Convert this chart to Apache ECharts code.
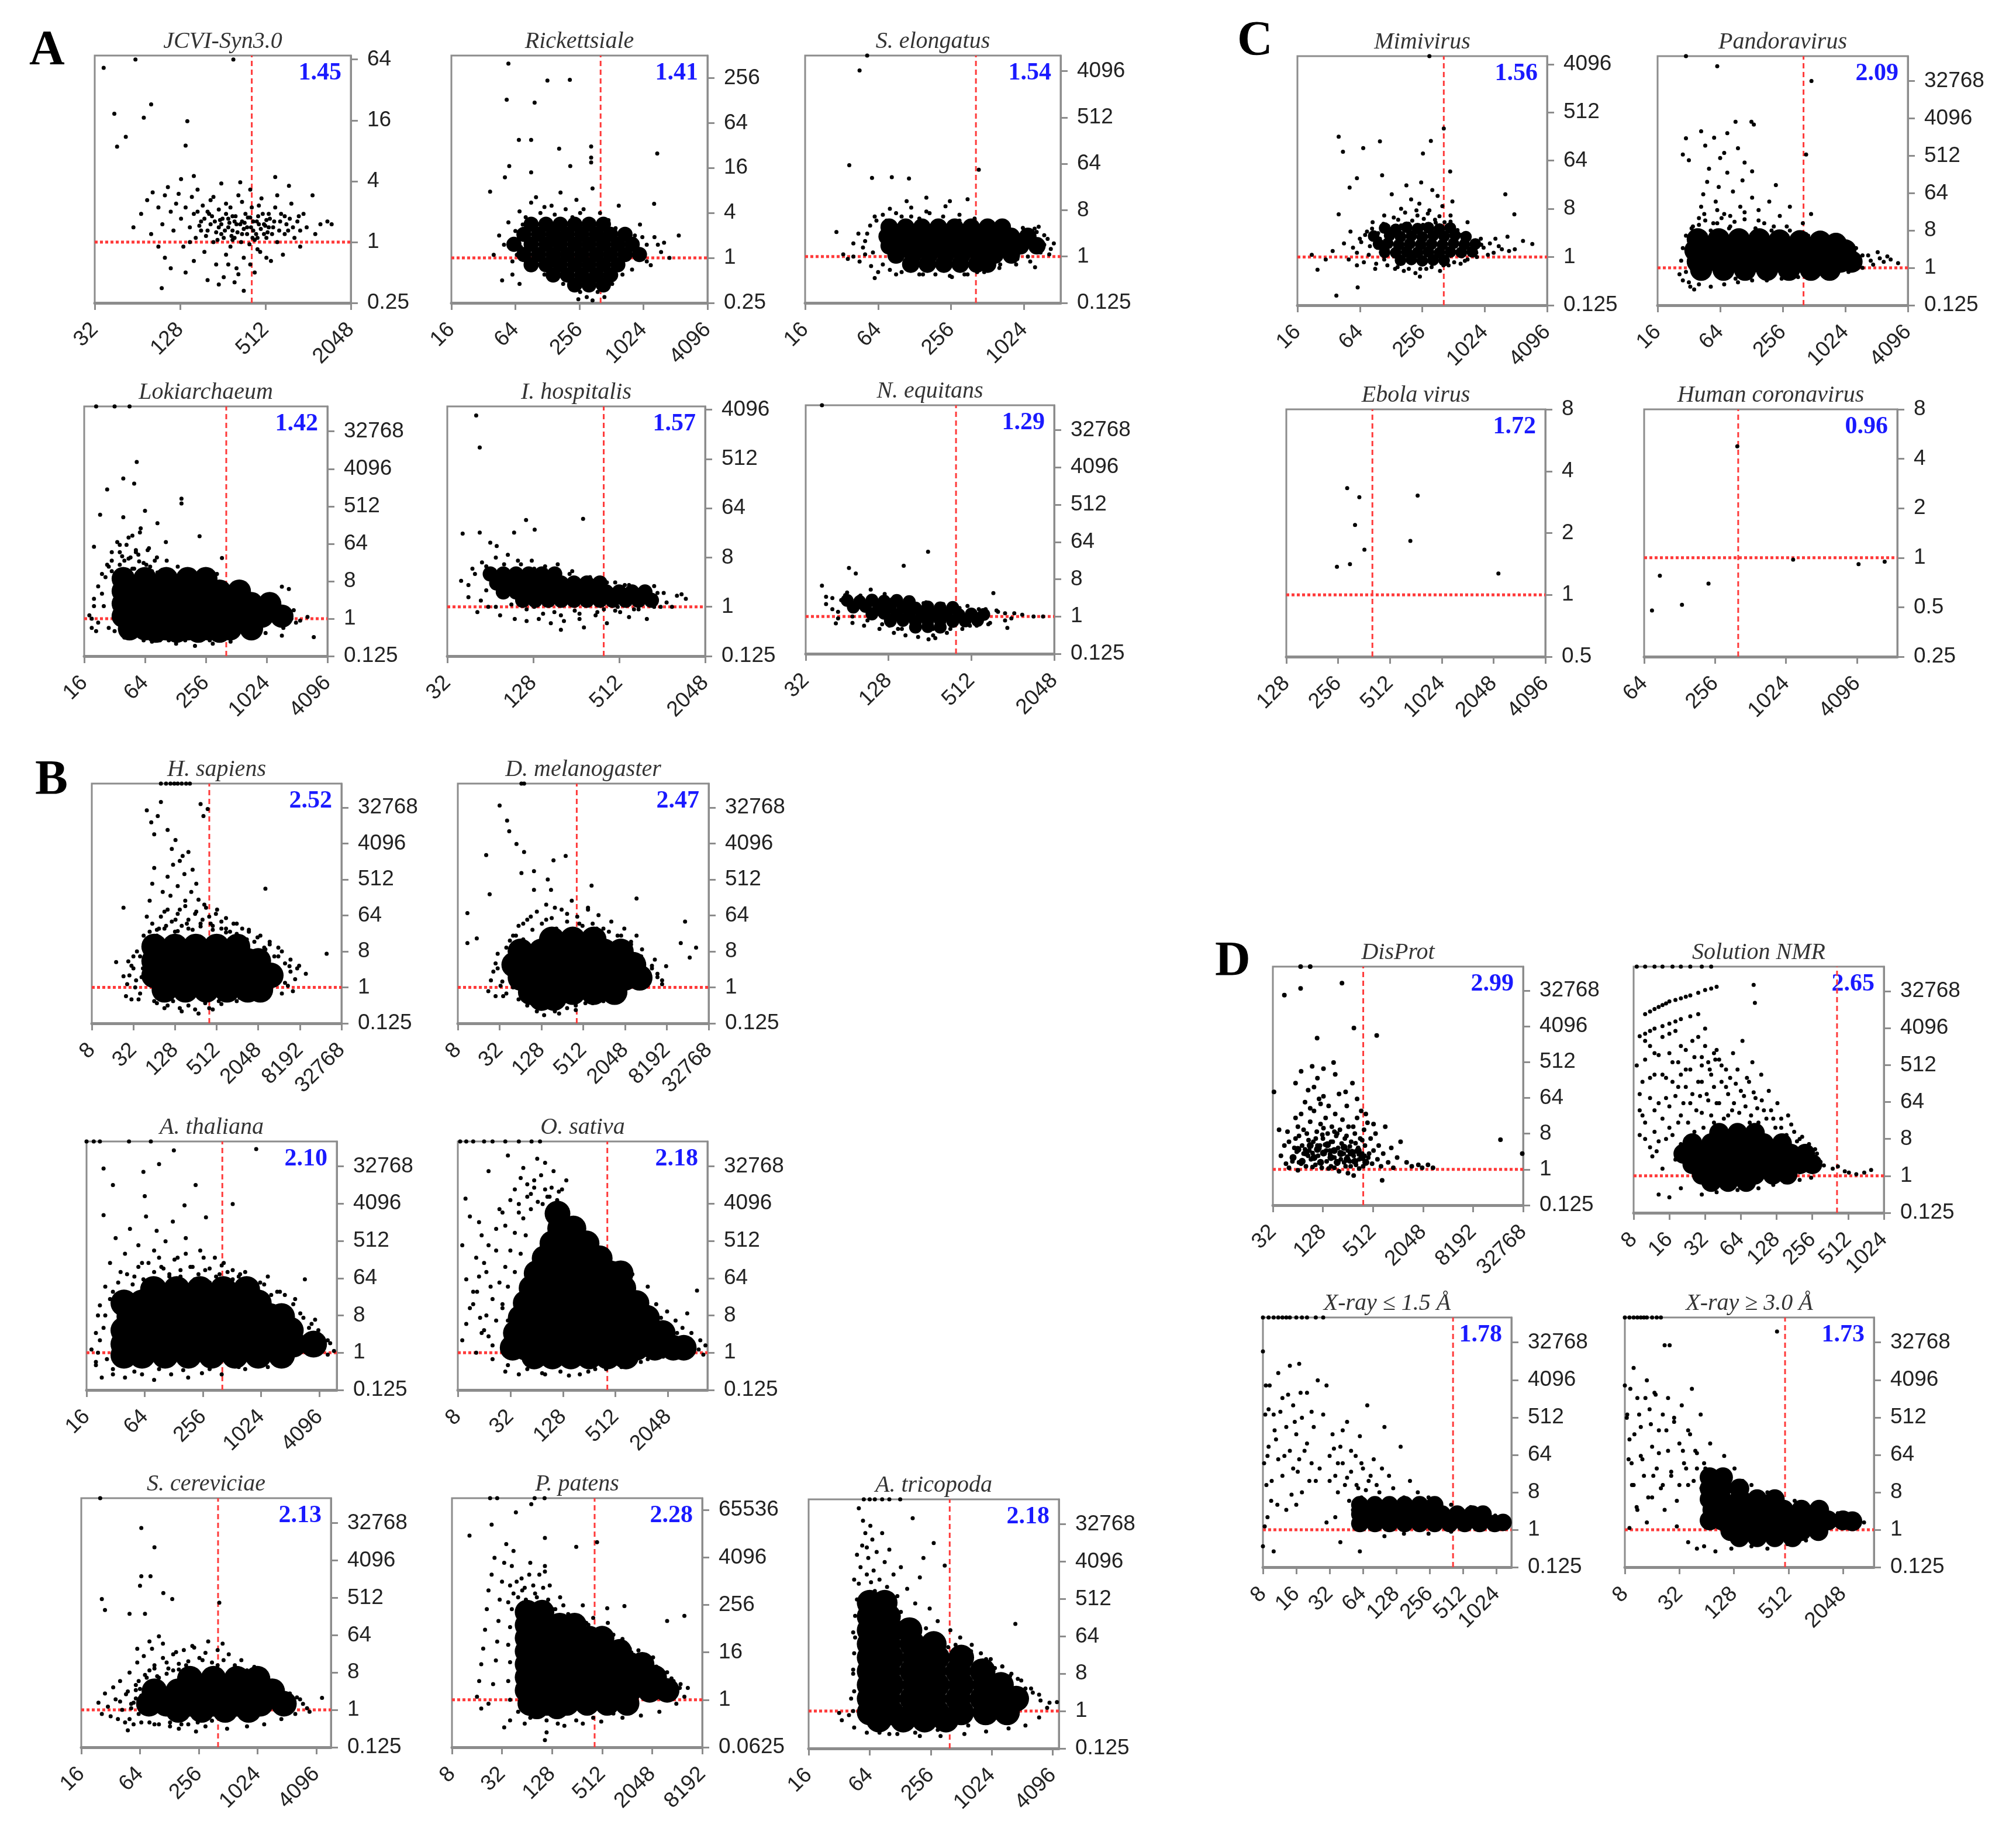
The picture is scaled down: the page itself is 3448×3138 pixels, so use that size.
<!DOCTYPE html>
<html>
<head>
<meta charset="utf-8">
<script src="https://cdn.jsdelivr.net/npm/echarts@6/dist/echarts.min.js"></script>
<style>
html, body { margin: 0; background: #fff; }
#chart { width: 3448px; height: 3138px; }
</style>
</head>
<body>
<div id="chart"></div>
<script>
// ---- data ----
var titles = ['JCVI-Syn3.0', 'Rickettsiale', 'S. elongatus', 'Lokiarchaeum', 'I. hospitalis', 'N. equitans',
	'Mimivirus', 'Pandoravirus', 'Ebola virus', 'Human coronavirus',
	'H. sapiens', 'D. melanogaster', 'A. thaliana', 'O. sativa', 'S. cereviciae', 'P. patens', 'A. tricopoda',
	'DisProt', 'Solution NMR', 'X-ray \u2264 1.5 \u00c5', 'X-ray \u2265 3.0 \u00c5'];
var scores = ['1.45', '1.41', '1.54', '1.42', '1.57', '1.29', '1.56', '2.09', '1.72', '0.96',
	'2.52', '2.47', '2.10', '2.18', '2.13', '2.28', '2.18', '2.99', '2.65', '1.78', '1.73'];
var medians = [410, 405, 410, 408, 399, 396, 413, 406, 405, 402, 401, 413, 406, 413, 404, 416, 394, 391, 413, 416, 470];

var xTicks = [[32, 128, 512, 2048], [16, 64, 256, 1024, 4096], [16, 64, 256, 1024], [16, 64, 256, 1024, 4096],
	[32, 128, 512, 2048], [32, 128, 512, 2048], [16, 64, 256, 1024, 4096], [16, 64, 256, 1024, 4096],
	[128, 256, 512, 1024, 2048, 4096], [64, 256, 1024, 4096],
	[8, 32, 128, 512, 2048, 8192, 32768], [8, 32, 128, 512, 2048, 8192, 32768], [16, 64, 256, 1024, 4096],
	[8, 32, 128, 512, 2048], [16, 64, 256, 1024, 4096], [8, 32, 128, 512, 2048, 8192], [16, 64, 256, 1024, 4096],
	[32, 128, 512, 2048, 8192, 32768], [8, 16, 32, 64, 128, 256, 512, 1024], [8, 16, 32, 64, 128, 256, 512, 1024],
	[8, 32, 128, 512, 2048]];
var yBig = [0.125, 1, 8, 64, 512, 4096, 32768];
var yTicks = [[0.25, 1, 4, 16, 64], [0.25, 1, 4, 16, 64, 256], [0.125, 1, 8, 64, 512, 4096], yBig,
	[0.125, 1, 8, 64, 512, 4096], yBig, [0.125, 1, 8, 64, 512, 4096], yBig,
	[0.5, 1, 2, 4, 8], [0.25, 0.5, 1, 2, 4, 8],
	yBig, yBig, yBig, yBig, yBig, [0.0625, 1, 16, 256, 4096, 65536], yBig,
	yBig, yBig, yBig, yBig];
var xRanges = [[32, 2048], [16, 4096], [16, 2048], [16, 4096], [32, 2048], [32, 2048], [16, 4096], [16, 4096],
	[128, 4096], [64, 9000], [8, 32768], [8, 32768], [16, 6200], [8, 5800], [16, 5800], [8, 8192], [16, 4700],
	[32, 32768], [8, 1024], [8, 1400], [8, 4500]];
var yRanges = [[0.25, 70], [0.25, 512], [0.125, 8192], [0.125, 131072], [0.125, 4700], [0.125, 131072],
	[0.125, 5800], [0.125, 131072], [0.5, 8], [0.25, 8],
	[0.125, 131072], [0.125, 131072], [0.125, 131072], [0.125, 131072], [0.125, 131072], [0.0625, 131072],
	[0.125, 131072], [0.125, 131072], [0.125, 131072], [0.125, 131072], [0.125, 131072]];

// [protein length, ratio] points, scattered ones
var pJcvi = [[37,53],[44,18.6],[80,23],[71,17],[144,15.7],[53,11],[46,8.8],[140,9],[62,64],[304,64],
	[68,1.9],[75,2.6],[82,3.1],[90,2.2],[96,1.5],[100,2.9],[105,3.5],[110,2.0],[115,1.3],[120,2.4],[125,3.0],[130,1.7],[135,0.9],[140,2.2],[150,1.4],[155,2.8],[160,1.9],[165,1.1],[170,3.3],[180,1.6],[185,2.3],[190,0.8],[200,1.3],[205,1.9],[210,2.6],[220,1.0],[225,1.6],[230,0.6],[240,2.1],[250,1.2],[255,1.7],[260,0.45],[270,2.4],[280,1.4],[290,0.9],[300,1.8],[310,1.1],[320,0.55],[330,2.9],[340,1.5],[350,1.2],[360,0.7],[370,1.9],[380,1.4],[395,0.95],[410,2.2],[420,1.6],[430,0.5],[440,1.2],[455,1.8],[470,0.8],[480,2.7],[500,1.5],[520,1.1],[540,1.9],[560,0.65],[580,1.4],[600,2.2],[620,1.0],[650,1.6],[680,0.75],[700,1.8],[740,1.3],[780,2.4],[820,1.1],[860,1.6],[900,0.9],[950,1.9],[1000,1.4],[1100,2.9],[1150,1.2],[1250,1.5],[1400,1.6],[1500,1.5],
	[100,0.7],[110,0.55],[95,0.35],[240,0.38],[200,0.42],[280,0.6],[330,0.48],[90,0.9],[80,1.2],[60,1.4],[130,4.2],[160,4.5],[250,3.8],[340,3.9],[600,4.4],[750,3.6],
	[180,1.3],[210,1.5],[240,1.4],[260,1.1],[280,1.7],[300,1.3],[320,1.5],[350,1.6],[380,1.2],[420,1.3],[460,1.5],[500,1.2],[540,1.4],[300,1.05],[250,1.5],[430,1.05],[190,1.7],[230,1.25],[270,1.9],[310,1.6],[360,1.35],[400,1.75],[450,1.1],[520,1.65],[170,2.0],[270,0.75],[310,0.4],[360,0.33],[400,0.6],[520,0.7],[450,0.85],[140,0.5],[160,0.65],[200,2.0],[220,2.8],[290,2.2],[350,2.5],[400,3.3],[460,2.3],[620,2.9],[700,1.2],[900,1.3],
	[150,1.0],[175,1.45],[195,1.15],[215,1.8],[235,1.05],[245,1.65],[265,1.3],[285,1.55],[295,1.15],[315,1.8],[325,1.25],[345,1.0],[365,1.55],[385,1.75],[405,1.4],[415,1.1],[445,1.6],[475,1.35],[490,1.9],[510,1.45],[530,1.25],[550,1.7],[570,1.2],[590,1.6],[640,1.3],[660,1.9],[720,1.5],[760,1.7],[800,1.4],[880,1.8]];
var pRick = [[55,400],[128,237],[208,242],[53,131],[97,120],[69,38],[90,38],[330,31],[165,29],[1380,25],[330,22],[330,19],[210,17],[56,17],[51,12],[90,14],[37,7.7],[1290,5.3],[2200,2.0],
	[40,1.1],[45,2.0],[50,1.5],[55,3.0],[60,0.9],[64,2.3],[70,4.2],[72,1.4],[80,3.5],[85,0.7],[90,5.5],[96,2.6],[100,6.5],[110,1.0],[110,4.0],[120,0.6],[130,3.2],[140,5.0],[150,0.55],[160,2.9],[170,7.5],[180,0.45],[190,4.5],[210,0.4],[220,3.5],[240,6.0],[260,0.35],[280,4.5],[300,0.3],[320,3.0],[340,8.5],[380,0.35],[400,4.0],[440,0.3],[480,3.2],[520,0.45],[560,2.5],[600,5.0],[650,0.6],[700,2.2],[800,0.7],[850,2.0],[900,1.3],[950,2.8],[1100,1.5],[1200,0.8],[1300,1.9],[1500,1.2],[1600,1.6],[1800,1.0],[250,0.28],[340,0.27],[320,0.55],[60,0.6],[48,0.5],[70,0.45],[62,1.8],[75,2.8],[66,1.1],[150,3.8],[200,2.9],[120,4.8],[260,4.0],[380,2.8],[440,2.6],[1000,1.9],[1100,0.9],[1400,1.5]];
var pSelo = [[45,4200],[52,8192],[37,60],[433,49],[57,34],[83,35],[115,33],[29,3.0],[1260,0.62],[60,0.38],
	[40,1.0],[45,0.8],[50,2.0],[55,4.0],[58,1.2],[60,6.0],[70,0.7],[75,5.0],[80,8.5],[100,6.0],[110,0.6],[120,9.0],[140,5.5],[150,0.45],[170,7.0],[200,4.5],[230,9.5],[250,0.42],[300,6.5],[330,0.45],[380,4.0],[420,0.5],[450,3.8],[520,0.6],[600,3.0],[650,0.7],[800,3.2],[900,0.9],[1000,2.6],[1100,1.0],[1200,2.0],[1300,1.5],[1400,1.2],[1500,1.7],[1250,3.5],[1350,3.8],[36,0.9],[33,1.1],[110,12],[160,14],[250,12],[350,13],[64,0.5],[90,0.45],[48,1.5],[52,2.8],[1600,2.2],[1700,1.4],
	[40,1.8],[44,2.8],[50,1.1],[56,0.65],[62,5],[70,6.5],[80,0.55],[90,7],[100,0.5],[120,6],[140,0.45],[160,7.5],[190,0.45],[220,6],[260,0.4],[300,5],[350,0.45],[400,5.5],[480,0.5],[560,4.5],[640,0.6],[760,4],[880,0.7],[1000,3.6],[1150,0.8],[1300,3],[1500,2.6],[1650,1.1],[1800,1.8]];
var pLoki = [[21,131072],[32,131072],[45,131072],[53,6000],[27,1300],[39,2400],[50,1800],[23,320],[39,280],[64,400],[147,780],[147,600],[222,97],[103,70],[370,29],[1450,5.9],[1700,5.2],[3000,0.36],[1450,0.39],[20,54],
	[20,2],[22,0.8],[24,4],[26,10],[30,25],[32,0.5],[36,40],[40,0.35],[42,60],[48,100],[55,35],[58,150],[62,0.3],[70,50],[75,0.28],[80,25],[85,200],[95,15],[110,0.3],[120,12],[140,8],[160,0.3],[200,10],[230,0.3],[300,6],[340,0.4],[400,4],[500,0.5],[600,3.5],[800,0.7],[900,2.5],[1000,1.5],[1200,1.8],[1400,1.2],[1800,1.0],[2200,0.9],[2600,1.1],[250,15],[330,12],[18,1.2],[19,0.6],[28,18],[34,70],[46,30],[66,20],[90,9],[180,6],[700,2.2],[1100,3],[280,0.3],
	[30,14],[36,20],[40,12],[44,28],[50,16],[56,24],[62,14],[72,18],[85,13],[38,32],[52,45],
	[19,1],[20,3],[21,0.5],[22,6],[24,12],[25,2],[27,20],[30,40],[33,8],[36,60],[40,25],[44,90],[48,16],[52,40],[57,120],[62,22],[68,45],[75,14],[84,30],[95,10],[105,25],[120,8],[135,18],[150,6],[170,12],[190,5],[220,9],[260,4.5],[300,7],[360,3.5],[420,5],[500,3],[600,2.6],[750,2.2],[900,1.9],[1100,2.5],[1300,1.5],[1600,1.3],[1900,1.6],[2000,0.8],[1500,0.6],[1000,0.45],[700,0.35],[450,0.28],[300,0.25],[200,0.22],[130,0.25],[90,0.3],[60,0.35],[40,0.45],[28,0.6]];
var pIhos = [[51,3200],[54,830],[114,39],[286,41],[41,22],[54,23],[94,23],[131,26],[71,13],[64,15],
	[40,3.0],[45,1.5],[48,5],[52,0.8],[56,6.5],[62,1.0],[70,8],[75,0.7],[85,9],[95,0.6],[105,6],[115,0.55],[125,7],[140,0.6],[155,5.5],[170,0.5],[190,6],[210,0.55],[240,4.5],[270,0.6],[290,0.42],[320,3.5],[350,0.7],[380,3.2],[420,0.5],[480,2.8],[520,0.8],[600,2.5],[700,0.9],[750,2.2],[850,1.5],[950,1.8],[1100,1.2],[1300,1.6],[1500,1.4],[800,0.6],[600,0.65],[200,0.38],[60,2.0],[66,4.5],[100,4.5],[130,1.0],[180,0.8],[250,0.85],[400,0.9],[500,1.0],[900,2.4],[1000,1.0],
	[45,2.5],[50,4],[55,1.3],[60,5.5],[70,1.0],[80,6],[90,1.1],[100,7],[115,0.9],[130,5],[150,0.75],[170,4.5],[200,0.7],[230,4],[270,0.75],[310,3.2],[360,0.8],[420,2.8],[480,0.85],[560,2.5],[650,0.9],[760,2.1],[900,1.0],[1050,1.8],[1200,1.0],[1400,1.7]];
var pNequ = [[42,131072],[248,37],[165,17],[42,5.6],[66,15],[74,11],[740,3.7],[1450,1.0],[53,0.68],[935,0.53],
	[45,3],[50,1.5],[55,0.9],[64,3.8],[70,0.7],[80,3.2],[85,0.6],[95,4.5],[110,0.5],[120,3.5],[140,0.4],[150,2.8],[170,0.35],[190,2.6],[210,0.32],[240,2.2],[270,0.35],[280,0.3],[320,2.0],[340,0.4],[380,1.6],[440,0.5],[480,1.8],[560,0.6],[650,1.5],[700,0.7],[800,1.3],[900,1.2],[1000,0.9],[1200,1.1],[1700,1.0],[250,0.28],[58,2.5],[75,2.6],[105,2.5],[130,0.6],[160,0.5],[200,2.0],[300,1.5],[400,1.4],[600,1.2],
	[45,2],[50,2.8],[55,1.3],[62,3.3],[70,1.0],[78,3],[90,0.8],[100,2.9],[115,0.65],[135,2.6],[150,0.5],[175,2.4],[200,0.45],[230,2.1],[270,0.5],[310,1.8],[360,0.5],[420,1.6],[500,0.6],[580,1.5],[680,0.65],[780,1.4],[900,0.8],[1050,1.2]];
var pMimi = [[40,180],[44,94],[69,110],[100,147],[310,150],[260,87],[413,256],[300,5800],[51,20],[60,30],[105,34],[476,40],[1620,15],[1980,6.3],[40,6.3],[25,0.58],[38,0.19],[61,0.27],[243,0.43],[2950,1.75],[1760,1.3],
	[60,1.2],[64,2.2],[70,0.8],[75,3.0],[80,1.6],[85,4.5],[90,0.6],[96,2.8],[110,6.0],[110,0.9],[120,3.8],[140,0.6],[150,5.0],[160,8.0],[170,0.55],[190,4.2],[200,12],[220,0.5],[230,6.0],[240,10],[260,4.0],[280,0.6],[300,7.5],[320,18],[340,5.0],[380,0.55],[400,9.0],[420,4.5],[460,0.7],[480,6.0],[550,3.0],[600,0.75],[650,2.5],[700,0.9],[800,2.0],[850,1.2],[950,1.7],[1100,1.1],[1300,2.2],[1500,1.4],[45,1.8],[35,1.3],[30,0.9],[52,3.0],[22,1.1],[130,15],[180,22],[250,25],[360,14],[500,11],[700,4.5],
	[50,0.9],[55,1.5],[60,0.7],[66,1.9],[72,2.6],[78,1.1],[84,3.4],[92,0.75],[100,2.2],[108,4.2],[118,0.7],[126,2.9],[136,5.5],[148,0.65],[160,3.9],[175,6.8],[190,0.6],[205,4.8],[225,7.5],[245,0.6],[265,5.2],[290,6.5],[315,0.65],[345,4.4],[375,5.8],[410,0.7],[440,3.8],[480,4.6],[520,0.8],[560,3.2],[610,2.6],[660,0.85],[720,2.4],[780,1.9],[860,1.0],[940,2.2],[1000,1.5],[1150,1.8],[1250,1.2],[1400,1.6],[1700,2.4],[2000,1.4],[2400,2.0]];
var pPand = [[30,131072],[60,75000],[484,32768],[430,550],[128,3400],[90,3400],[135,2900],[42,2000],[56,1400],[75,1800],[30,1350],[28,550],[64,450],[95,780],[130,215],
	[28,0.5],[30,0.8],[34,2.0],[36,4.0],[38,8.0],[40,16],[42,30],[44,60],[48,120],[50,250],[55,12],[58,40],[62,90],[68,0.6],[70,20],[75,200],[80,10],[85,70],[90,0.55],[100,30],[105,130],[110,15],[120,0.6],[130,50],[140,9],[150,25],[160,0.65],[170,12],[190,40],[200,8],[220,100],[240,18],[280,10],[300,30],[350,7],[400,12],[450,6],[480,20],[600,5],[700,4],[800,3.5],[900,2.8],[1100,2.3],[1200,3.0],[1500,2.0],[1800,1.5],[2200,1.7],[2600,1.9],[300,0.75],[200,0.7],[450,0.9],[33,0.35],[36,0.3],[32,400],[46,900],[70,600],[110,350],
	[34,9],[40,11],[46,14],[52,8],[60,12],[66,16],[78,9],[88,13],[96,7.5],
	[26,0.7],[27,1.5],[28,3],[30,6],[32,0.45],[35,10],[40,0.4],[45,20],[52,0.35],[60,25],[70,0.4],[80,18],[95,0.45],[110,22],[130,0.5],[150,14],[180,0.5],[210,10],[250,0.55],[300,8],[360,0.6],[430,6.5],[520,0.65],[620,5.5],[750,0.7],[900,4],[1100,0.8],[1300,3],[1500,1],[1700,2],[1900,1.2],[2100,2.4],[2400,1.4],[2800,1.6],[3300,1.3]];
var pEbola = [[289,3.31],[340,2.99],[321,2.19],[364,1.66],[252,1.37],[300,1.41],[742,3.04],[673,1.83],[2186,1.27]];
var pHcov = [[395,4.76],[87,0.777],[74.6,0.478],[134,0.517],[225,0.696],[1176,0.975],[4220,0.914],[7030,0.946]];
var pHsap = [[80,131072],[95,131072],[110,131072],[125,131072],[140,131072],[160,131072],[185,131072],[210,131072],
	[50,28000],[58,14000],[64,7000],[72,20000],[80,45000],[100,9000],[115,3000],[130,5000],[150,1500],[175,700],[200,2500],[230,900],[260,400],[300,40000],[330,20000],[380,30000],[2600,300],[20000,7],[5800,3.4],[23,100],[18,4.3],[23,1.9],[30,0.5],
	[40,6],[45,20],[50,60],[55,150],[60,400],[64,1000],[70,3],[75,30],[85,250],[90,80],[100,600],[110,200],[120,1200],[130,50],[140,350],[150,90],[165,2000],[180,150],[190,40],[220,250],[250,70],[280,160],[320,50],[360,100],[420,40],[500,70],[600,45],[700,30],[900,40],[1200,30],[1500,25],[2000,18],[3000,12],[4500,8],[6000,5],[8000,3.5],[10000,2.2],
	[40,0.7],[35,1.5],[32,3],[64,0.45],[100,0.35],[150,0.3],[250,0.28],[400,0.3],[600,0.38],[1000,0.45],[1500,0.6],[3000,0.9],[5000,1.3],
	[70,28],[95,35],[140,26],[200,30],[300,34],[450,28],[700,24],[1000,22],[1400,16],[2500,10],[4000,6],
	[25,0.6],[26,1.2],[28,2],[30,3.5],[32,6],[27,4.5],[34,1],[36,8],[38,0.5],[42,1.8],[44,3],
	[48,14],[55,25],[60,40],[70,20],[80,60],[90,30],[100,90],[115,45],[128,25],[140,70],[160,35],[180,110],[200,50],[230,28],[260,80],[300,40],[340,120],[400,60],[450,35],[520,90],[600,30],[700,55],[800,25],[1000,40],[1200,18],[1500,28],[1800,14],[2200,20],[2600,9],[3000,14],[3500,6],[4000,10],
	[5000,4],[6000,2.5],[7000,1.6],[7500,3],[5500,1.1],[6500,0.8],[4500,0.7],
	[70,0.4],[90,0.3],[120,0.45],[160,0.25],[200,0.35],[280,0.22],[350,0.4],[450,0.28],[550,0.45],[800,0.5],[1100,0.55],[1600,0.7],[2500,0.6]];
var pDmel = [[32,37000],[41,15500],[44,8300],[56,4000],[20.5,2100],[72,2500],[191,1550],[286,2000],[66,740],[100,830],[158,512],[23,218],[100,280],[176,280],[675,360],[3000,170],[11,73],[11,13],[15,17],[15000,45],[13000,13],[17500,5.6],[21600,10],[8000,3.4],[66,131072],[72,131072],
	[40,0.7],[35,1.4],[30,3],[45,8],[55,20],[70,40],[90,60],[150,50],[200,100],[300,70],[450,40],[600,100],[800,30],[1200,25],[1800,20],[2500,12],[3500,6],[5000,3.5],[6000,2.2],[7000,1.5],[120,0.3],[200,0.25],[400,0.27],[700,0.4],[1000,0.45],[1500,0.6],[60,0.5],[50,1.0],[28,0.6],
	[22,0.8],[24,1.5],[26,2.5],[28,4],[30,7],[33,1.1],[36,0.6],[40,10],[45,15],
	[50,20],[60,35],[70,16],[80,50],[95,28],[110,80],[130,40],[150,120],[180,55],[210,30],[250,90],[300,45],[350,150],[420,60],[500,35],[600,90],[700,40],[850,65],[1000,30],[1300,45],[1600,20],[2000,30],[2500,14],[3000,20],[3600,9],
	[5000,3],[6000,1.8],[7000,1.2],[5500,5],
	[80,0.35],[110,0.25],[140,0.2],[180,0.3],[230,0.22],[300,0.3],[400,0.35],[550,0.4],[800,0.45],[1200,0.55],[1800,0.7]];
var pAtha = [[16,131072],[19,131072],[22,131072],[44,131072],[74,131072],[128,80000],[24,29000],[30,11500],[62,24000],[90,37000],[910,86000],[520,4000],[215,11500],[64,6200],[24,2150],[165,3700],[275,1900],[2900,60],[3700,6.3],[5300,1.7],[23,0.25],
	[20,3],[18,1.2],[21,8],[25,40],[28,150],[32,600],[36,90],[40,250],[45,1000],[50,70],[55,400],[60,150],[66,2000],[72,60],[80,300],[85,900],[95,120],[105,500],[115,80],[125,1500],[140,200],[150,70],[170,600],[190,120],[210,60],[240,300],[270,100],[300,50],[340,200],[380,80],[420,150],[460,60],[520,100],[600,70],[700,90],[800,60],[1000,50],[1200,70],[1500,30],[1800,25],[2200,15],[2600,9],[3200,4],[4200,2.5],[5000,2],[30,0.4],[50,0.35],[90,0.4],[160,0.38],[300,0.4],[600,0.45],[1100,0.55],[20,0.6],
	[20,0.5],[21,1],[22,2],[24,4],[25,8],[22,14],[26,0.7],[28,20],
	[30,30],[34,50],[38,25],[42,80],[48,45],[55,120],[62,60],[70,150],[80,90],[90,200],[100,110],[115,70],[130,180],[150,100],[170,250],[200,120],[230,80],[260,200],[300,110],[350,70],[400,130],[460,90],[520,60],[620,80],[750,50],[900,35],[1100,45],[1300,25],[1600,30],[1900,12],[2300,20],[2800,7],[3400,5],
	[4500,1.3],[5000,0.9],[5800,1.1],[4000,3.5],
	[30,0.3],[40,0.25],[60,0.3],[80,0.22],[120,0.3],[180,0.25],[250,0.32],[400,0.3],[700,0.4],[1200,0.45],[2000,0.55]];
var pOsat = [[8.5,131072],[10,131072],[12,131072],[16,131072],[20,131072],[28,131072],[40,131072],[56,131072],[70,131072],
	[42,17000],[4400,32],[3400,9],[9.8,5400],[14,1450],[13.3,30],[14.4,7],[74,0.32],
	[9,400],[10,60],[11,2000],[12,15],[13,200],[15,700],[16,3.5],[17,90],[18,25000],[19,40],[20,1.5],[22,300],[24,3000],[26,12],[28,1200],[30,60000],[32,5000],[36,9000],[40,2500],[45,30000],[50,12000],[55,7000],[60,15000],[66,4500],[72,20000],[80,9000],[90,6000],[100,3500],[115,8000],[130,2500],[150,1500],[170,700],[200,1200],[230,400],[260,200],[300,500],[350,150],[400,250],[450,100],[500,60],[600,120],[700,50],[800,80],[1000,25],[1200,40],[1500,15],[2000,10],[2500,6],[3000,4],[3800,3],[4800,2],[5500,1.5],[20,0.7],[28,0.35],[40,0.3],[120,0.35],[200,0.3],[300,0.4],[600,0.45],[1000,0.6],[1800,0.8],
	[9,2],[10,5],[11,12],[12,30],[13,1],[14,70],[15,3],[16,150],[17,8],[18,400],[20,20],[22,1000],[24,50],[26,2500],[28,120],[30,6],[32,300],[36,800],[40,4000],[45,1800],[50,6000],[55,3000],[60,10000],[48,700],[42,250],[36,90],[30,40],[26,15],[22,6],[18,2.5],
	[140,3000],[160,1800],[200,900],[250,500],[300,300],[380,180],[480,110],[600,70],[750,45],[900,28],[1100,18],[1400,11],[1700,7],[2100,4.5],[2600,3],[3200,2.2],[4000,1.6],[4600,1.2],[5200,0.9],
	[30,0.5],[50,0.4],[80,0.3],[150,0.28],[250,0.35],[400,0.4],[700,0.5],[1200,0.7],[2000,0.9],
	[75,4000],[85,6000],[95,10000],[110,5000],[125,9000],[140,15000],[100,25000],[80,40000],[65,50000]];
var pScer = [[25,131072],[66,25000],[90,8500],[66,1700],[82,1700],[64,1000],[26,480],[28,260],[111,670],[137,480],[50,210],[72,210],[416,390],[4700,1.96],[48,0.32],
	[24,1.5],[26,0.8],[28,2.5],[30,1.2],[32,0.7],[34,3.5],[36,1.8],[38,0.6],[40,5],[42,1.0],[45,0.5],[48,2.8],[50,8],[52,1.4],[55,0.45],[58,4],[60,14],[62,0.8],[66,2.2],[70,20],[75,6],[80,0.5],[85,30],[90,10],[100,0.45],[110,40],[120,14],[130,0.4],[140,9],[150,25],[170,0.45],[190,12],[220,35],[250,0.5],[280,16],[320,45],[350,0.55],[400,12],[450,40],[500,0.6],[600,10],[700,0.8],[800,7],[900,1.0],[1000,5],[1200,3],[1400,1.3],[1600,2.2],[2000,1.6],[2400,1.3],[2800,1.8],[3300,1.1],[160,0.35],[240,0.3],[60,30],[80,45],[100,60],
	[40,1.6],[46,2.4],[52,1.1],[58,1.9],[64,3.2],[70,1.3],[76,2.6],[84,4.4],[96,6.5],[120,7.5],[160,9.5],
	[50,0.6],[55,1.5],[58,3],[62,5],[66,0.5],[72,7],[80,9],[90,12],[100,6],[110,18],[125,10],[140,22],[160,13],[180,28],[200,15],[230,32],[260,18],[300,24],[350,14],[400,28],[460,16],[520,22],[600,12],[700,16],[800,9],[950,11],[1100,8],[1300,6],[1500,5],[1800,3.5],[2200,2.5],[2600,2],[3000,1.4],[3500,0.9],[2500,0.8],[1800,0.6],[1200,0.45],[800,0.4],[500,0.35],[300,0.4],[200,0.45],[130,0.5],[90,0.45]];
var pPpat = [[23,131072],[28,131072],[79,131072],[104,131072],[72,92000],[13,14700],[24,28000],[47,57000],[105,12800],[250,7600],[445,10000],[105,2500],[105,1800],[590,210],[950,240],[3100,100],[5000,135],[105,0.095],[110,0.15],[34,0.2],
	[16,1.2],[17,3],[18,8],[19,20],[20,60],[21,200],[22,600],[24,1500],[26,4000],[18,0.6],[22,0.8],[25,2.5],[27,10],[28,30],[29,100],[30,350],[32,1000],[34,3000],[36,9000],[38,300],[40,800],[42,2500],[44,6000],[50,400],[55,1200],[60,700],[70,3000],[80,500],[90,1500],[100,300],[120,800],[140,200],[160,400],[200,150],[250,100],[300,250],[350,80],[400,120],[500,60],[600,90],[700,45],[900,35],[1100,20],[1400,14],[1800,10],[2300,7],[2800,5],[3500,3.5],[4500,2.5],[5500,2],[3000,1.3],[40,0.3],[60,0.25],[150,0.25],[250,0.3],[400,0.35],[700,0.45],[1200,0.6],
	[40,1],[38,3],[40,9],[38,25],[40,70],[42,200],[44,500],[48,1000],[52,250],[56,600],[62,350],[68,1500],[76,800],[84,400],[92,250],[100,700],[115,350],[130,200],[150,130],[175,250],[200,90],[240,130],[280,70],[330,90],[400,50],[480,60],[560,35],[660,40],[800,25],[950,28],[1150,16],[1400,18],[1700,10],[2100,12],[2500,6],[3100,5],[3700,3],[4400,2],[5000,1.2],[4000,0.8],[2500,0.5],[1500,0.4],[900,0.35],[500,0.28],[300,0.25],[180,0.22],[110,0.3],[70,0.35],[50,0.5]];
var pAtri = [[56,131072],[64,131072],[72,131072],[85,131072],[100,131072],[128,131072],[170,46000],[274,11500],[352,3300],[217,5000],[200,1700],[1750,128],[4500,1.65],[34,0.6],[32,0.9],
	[50,80000],[55,40000],[58,20000],[60,9000],[62,5000],[65,30000],[68,14000],[70,2500],[75,7000],[80,1500],[85,20000],[90,4000],[95,1000],[100,8000],[110,2000],[120,600],[130,3000],[150,900],[180,400],[250,300],[300,150],[400,90],[500,60],[650,40],[800,25],[1000,18],[1300,12],[1600,8],[2000,5.5],[2500,3.5],[3000,2.5],[3800,1.6],[45,1500],[48,6000],[52,300],[46,60],[44,10],[42,2],[40,0.8],[60,0.3],[100,0.28],[180,0.3],[300,0.35],[600,0.45],[1000,0.6],[1600,0.8],
	[45,0.4],[44,1],[45,3],[44,8],[45,25],[44,80],[46,200],[48,500],[50,1200],[52,3000],[54,10000],[57,700],[60,2000],[66,1300],[72,800],[78,400],[86,250],[95,500],[105,200],[115,120],[130,250],[150,80],[170,150],[200,60],[230,100],[270,45],[320,60],[380,35],[450,40],[540,25],[640,28],[760,16],[900,18],[1100,11],[1300,12],[1550,7],[1850,6],[2200,3.5],[2600,2.8],[3100,1.8],[3600,1.2],[3000,0.7],[2200,0.45],[1500,0.38],[900,0.32],[550,0.28],[320,0.25],[200,0.25],[120,0.28],[80,0.3]];
var pDisp = [[69,131072],[90,131072],[44,25000],[69,37000],[217,50000],[109,2050],[302,3700],[568,2400],[33,90],[38,10],[17500,5.6],[32000,2.5],[660,0.53],[2350,1.3],[2700,1.1],
	[50,1.1],[55,2],[58,3.5],[60,6],[64,12],[66,1.5],[70,25],[72,4],[75,2.5],[78,50],[80,1.2],[82,8],[85,100],[88,3],[90,16],[92,1.8],[95,400],[98,5],[100,30],[104,1.3],[108,9],[110,200],[112,2.2],[115,60],[118,4],[120,14],[124,1.1],[128,6],[130,350],[134,2.5],[138,20],[142,1.6],[146,8],[150,40],[155,3],[160,1.2],[164,12],[168,5],[172,500],[176,2],[180,25],[185,7],[190,1.4],[195,3.5],[200,80],[205,10],[210,1.8],[215,4.5],[220,18],[228,2.5],[235,6],[240,1.2],[248,40],[255,3],[260,12],[270,1.6],[280,5],[290,150],[300,2.2],[310,8],[320,1.3],[330,20],[340,3.5],[350,1.8],[360,6],[370,30],[380,2.5],[390,1.2],[400,10],[410,4],[420,1.6],[440,15],[460,2.5],[480,6],[500,1.4],[520,3],[550,8],[580,1.8],[600,4],[640,1.2],[680,2.5],[720,12],[780,1.5],[850,3.5],[900,1.1],[1000,2],[1100,5],[1300,1.5],[1500,1.2],[1800,1.3],[2000,1.1],
	[256,0.8],[300,0.7],[200,0.9],[64,0.95],[40,2.2],[44,4],[46,1.4],[150,1.05],[350,1.05],[120,45],[100,120],[70,300],[60,150],[240,90],[180,250],[130,70],[330,60],[90,35],[420,25],[520,14],[60,20],[75,10],[110,4],[140,3],[165,2],[230,1.5],[270,3.8],[310,2.8],[380,5.5],[450,2],[190,8],[160,5],[130,11],[105,6],[85,2.2],[70,1.4],[55,1.6],[50,5],[48,9],
	[62,2.8],[78,3.2],[96,2.6],[116,3.4],[136,4.2],[156,2.4],[178,3.1],[206,2.7],[226,3.6],[252,2.1],[286,2.9],[316,4.6],[346,2.4],[406,2.2],[66,7],[86,5.5],[126,7.5],[176,9],[246,7],[296,12],[96,1.15],[176,1.1],[276,1.2]];
var pNmr = [[10,9000],[11,10500],[12,12000],[13,13500],[14,15000],[15,16500],[16,18500],[18,20000],[20,22000],[22,24000],[24,26000],[28,30000],[32,35000],[36,38000],[40,42000],
	[9,2600],[10,3000],[11,3500],[12,4000],[14,4600],[16,5300],[18,6000],[20,6800],[24,8000],[28,9000],
	[8.5,131072],[10,131072],[12,131072],[14,131072],[17,131072],[20,131072],[24,131072],[30,131072],[36,131072],[13,0.35],[82,47000],[84,17000],
	[8.5,500],[9,100],[9.5,30],[10,2000],[10,8],[11,250],[11.5,3],[12,1000],[12,40],[13,7],[14,300],[14,1.5],[15,80],[16,3000],[16,15],[17,600],[18,2.5],[19,150],[20,1500],[20,30],[22,8],[22,400],[24,60],[25,2000],[26,12],[28,200],[28,1.3],[30,800],[30,35],[32,4000],[33,100],[34,2],[36,300],[38,20],[40,1200],[40,60],[44,500],[45,8],[48,150],[50,30],[52,250],[55,1000],[56,60],[60,400],[62,15],[64,120],[66,2000],[70,50],[75,200],[78,30],[80,600],[85,80],[90,20],[95,300],[100,40],[110,120],[120,25],[130,60],[140,15],[160,30],[180,12],[200,8],[220,5],[250,3],[280,3.5],[300,2.2],[320,1.8],[380,1.5],[420,1.7],[480,1.3],[520,1.2],[600,1.1],[700,1.2],[800,1.4],
	[16,0.3],[20,0.5],[30,0.35],[40,0.4],[60,0.45],[90,0.5],[120,0.6],[150,0.7],[200,0.8],[250,0.9],[48,400],[42,700],[38,1000],[34,600],[30,500],
	[9,10],[9,40],[9.5,200],[10,20],[10,700],[11,5],[11,80],[11,1500],[12,12],[12,300],[12.5,4],[13,60],[13,900],[14,25],[14,2500],[15,8],[15,250],[16,50],[16,1000],[17,10],[17,200],[18,90],[18,3500],[19,20],[19,600],[20,6],[20,300],[21,60],[22,150],[22,1200],[23,20],[24,400],[24,3],[25,100],[26,800],[27,40],[28,2500],[29,90],[30,200],[31,15],[32,1500],[34,70],[35,400],[36,30],[38,150],[39,700],[42,60],[44,200],[46,25],[50,100],[54,40],[58,180],[62,35],[68,90],[72,250],[76,20],[82,110],[88,45],[96,70],[105,25],[115,40],[125,15],[140,25],[155,10],[170,18],[190,7],[210,9],[240,6],[270,4.5]];
var pXr15 = [[8,131072],[9,131072],[10,131072],[11,131072],[12,131072],[13,131072],[14,131072],[16,131072],[18,131072],[20,131072],[24,131072],[28,131072],
	[8,20000],[8.5,3000],[9,800],[9,100],[8.2,40],[8.6,12],[9.5,5],[8.8,2],[10,600],[10.5,150],[11,50],[11,6000],[12,1500],[12,20],[13,300],[13,3],[14,80],[14,9000],[15,1000],[15,30],[16,200],[16,4],[17,10000],[17,50],[18,500],[18,8],[20,2000],[20,120],[22,40],[22,700],[24,15],[25,4000],[8,0.4],[10,0.3],[8.3,1.2],
	[30,3000],[32,60],[34,200],[36,20],[38,8],[40,100],[42,40],[44,12],[46,400],[48,5],[50,25],[52,3],[55,60],[58,10],[60,180],[62,6],[64,30],[70,1000],[72,15],[80,50],[90,8],[100,300],[110,20],[120,10],[140,100],[150,6],[170,15],[200,8],[250,6],[300,5],[400,4],[600,3.5],[800,3],[1000,2.2],[1200,2],[1300,1.6],[40,0.5],[60,0.3],[100,0.7],[150,0.8],[250,0.8],[400,0.9],[700,1.0],[36,2],[30,1.5],
	[8.4,600],[8.8,60],[9.2,3000],[9.6,15],[10.2,250],[10.8,4],[11.5,700],[12.5,60],[13.5,1800],[14.5,7],[15.5,400],[16.5,25],[17.5,2000],[19,80],[21,15],[23,300],[26,30],[28,600],[32,15],[35,90],[38,40],[42,250],[46,18],[50,80],[56,12],[62,40],[68,9],[75,20],[85,12],[95,30]];
var pXr30 = [[8,131072],[9,131072],[10,131072],[11,131072],[12,131072],[13,131072],[14,131072],[16,131072],[18,131072],[20,131072],[383,60000],[25,28000],[22,28000],
	[8,3000],[8.5,600],[9,150],[9.5,40],[10,8000],[10,12],[11,1500],[11,3],[12,300],[12,60],[13,20],[14,4000],[14,1.5],[15,800],[16,100],[16,6],[17,2000],[18,30],[19,250],[20,10],[21,600],[22,3],[24,1500],[24,80],[26,20],[28,400],[30,5],[32,120],[34,1000],[36,40],[40,250],[40,12],[44,2500],[48,80],[50,30],[55,600],[60,40],[70,120],[80,25],[100,60],[130,30],[160,15],[200,12],[300,8],[400,6],[600,5],[900,3.5],[1300,3],[1800,2.5],[2400,2.2],[3000,1.8],[3500,1.5],[40,0.5],[50,0.35],[60,0.4],[80,0.3],[120,0.35],[200,0.4],[300,0.35],[500,0.45],[800,0.55],[30,1.2],[9,1.1],
	[8.4,500],[8.8,50],[9.2,2500],[9.6,12],[10.2,200],[10.8,3.5],[11.5,600],[12.5,50],[13.5,1500],[14.5,6],[15.5,350],[16.5,20],[17.5,1800],[19,70],[21,12],[23,250],[26,25],[28,500],[32,12],[35,80],[38,30],[42,200],[46,15],[50,70],[56,10],[62,30],[68,8],[75,18],[85,10],[100,20],[120,12],[150,9],[180,7]];

// dense cores of the clouds, same units
var kRick = [[90,2.83],[124,2.83],[169,2.83],[231,2.83],[315,2.83],[430,2.83],
	[77,2.07],[106,2.07],[145,2.07],[197,2.07],[270,2.07],[369,2.07],[503,2.07],[687,2.07],
	[62,1.52],[90,1.52],[124,1.52],[169,1.52],[231,1.52],[315,1.52],[430,1.52],[588,1.52],[803,1.52],
	[77,1.11],[106,1.11],[145,1.11],[197,1.11],[270,1.11],[369,1.11],[503,1.11],[687,1.11],[939,1.11],
	[90,0.81],[124,0.81],[169,0.81],[231,0.81],[315,0.81],[430,0.81],[588,0.81],
	[145,0.59],[197,0.59],[270,0.59],[369,0.59],[503,0.59],[231,0.435],[315,0.435],[430,0.435]];
var kSelo = [[79,3.73],[108,3.73],[147,3.73],[201,3.73],[274,3.73],[375,3.73],[512,3.73],[676,3.73],
	[76,2.46],[90,2.46],[124,2.46],[169,2.46],[231,2.46],[315,2.46],[430,2.46],[588,2.46],[803,2.46],[1098,2.46],
	[79,1.62],[108,1.62],[147,1.62],[201,1.62],[274,1.62],[375,1.62],[512,1.62],[699,1.62],[955,1.62],[1305,1.62],
	[90,1.07],[124,1.07],[169,1.07],[231,1.07],[315,1.07],[430,1.07],[588,1.07],[803,1.07],
	[119,0.71],[163,0.71],[223,0.71],[304,0.71],[416,0.71],[512,0.71]];
var kLoki = [[39,9.2],[64,9.2],[104,9.2],[169,9.2],[256,9.2],
	[39,4.6],[50,4.6],[82,4.6],[132,4.6],[215,4.6],[350,4.6],[549,4.6],
	[39,2.3],[64,2.3],[104,2.3],[169,2.3],[274,2.3],[446,2.3],[724,2.3],[1098,2.3],
	[39,1.15],[50,1.15],[82,1.15],[132,1.15],[215,1.15],[350,1.15],[568,1.15],[922,1.15],[1448,1.15],
	[45,0.57],[64,0.57],[104,0.57],[169,0.57],[274,0.57],[446,0.57],[724,0.57],
	[82,0.5],[132,0.5],[215,0.5],[350,0.5]];
var kIhos = [[64,4],[79,4],[97,4],[119,4],[147,4],[181,4],
	[71,2.73],[87,2.73],[108,2.73],[132,2.73],[163,2.73],[201,2.73],[247,2.73],[304,2.73],[375,2.73],
	[79,1.87],[97,1.87],[119,1.87],[147,1.87],[181,1.87],[223,1.87],[274,1.87],[338,1.87],[416,1.87],[512,1.87],[630,1.87],[776,1.87],
	[108,1.32],[132,1.32],[163,1.32],[201,1.32],[247,1.32],[304,1.32],[375,1.32],[461,1.32],[568,1.32],[699,1.32],[861,1.32]];
var kNequ = [[64,2.46],[79,2.3],[97,2.5],[119,2.35],[147,2.46],[181,2.3],
	[71,1.68],[87,1.75],[108,1.62],[132,1.7],[163,1.68],[201,1.6],[247,1.7],[304,1.62],[375,1.66],
	[97,1.15],[119,1.2],[147,1.1],[181,1.15],[223,1.18],[274,1.12],[338,1.15],[416,1.1],[512,1.15],[630,1.12],
	[132,0.78],[163,0.8],[201,0.76],[247,0.78],[304,0.8],[375,0.76],[461,0.78],[568,0.8],
	[201,0.55],[247,0.57],[304,0.55]];
var kMimi = [[111,3.48],[142,3.3],[181,3.6],[231,3.4],[294,3.55],[375,3.35],[478,3.5],
	[87,2.46],[124,2.55],[158,2.4],[201,2.5],[256,2.38],[326,2.52],[416,2.44],[530,2.56],[676,2.4],
	[97,1.74],[119,1.8],[152,1.7],[194,1.78],[247,1.72],[315,1.76],[401,1.7],[512,1.8],[652,1.72],[832,1.76],
	[111,1.23],[142,1.2],[181,1.26],[231,1.22],[294,1.25],[375,1.2],[478,1.24],[609,1.22],[776,1.26],
	[158,0.87],[201,0.9],[256,0.85],[326,0.88],[416,0.86]];
var kPand = [[39,4.9],[62,4.9],[97,4.9],[152,4.9],[239,4.6],[375,4.4],[588,4.3],[832,3.8],
	[37,2.64],[49,2.64],[79,2.64],[119,2.64],[194,2.64],[294,2.64],[478,2.64],[724,2.64],[1024,2.64],
	[39,1.41],[62,1.41],[97,1.41],[152,1.41],[239,1.41],[375,1.41],[588,1.41],[922,1.41],[1176,1.41],
	[42,0.9],[69,0.9],[111,0.9],[181,0.9],[294,0.9],[478,0.9],[724,0.9]];
var kHsap = [[64,10.6],[128,10.6],[256,10.6],[512,10.6],[1024,10.6],
	[64,4.6],[90,4.6],[181,4.6],[362,4.6],[724,4.6],[1448,4.6],[2048,4.6],
	[64,2],[128,2],[256,2],[512,2],[1024,2],[2048,2],[3104,2],
	[90,0.87],[181,0.87],[362,0.87],[724,0.87],[1448,0.87],[2195,0.87]];
var kDmel = [[181,16],[362,16],[724,16],
	[64,8],[128,8],[256,8],[512,8],[1024,8],[1783,8],
	[52,3.7],[90,3.7],[181,3.7],[362,3.7],[724,3.7],[1448,3.7],[2702,3.7],
	[64,1.74],[128,1.74],[256,1.74],[512,1.74],[1024,1.74],[2048,1.74],[3327,1.74],
	[90,0.76],[181,0.76],[362,0.76],[724,0.76],[1448,0.76],[128,0.54],[194,0.54]];
var kAtha = [[79,34],[137,34],[239,34],[416,34],[724,34],
	[39,16],[60,16],[104,16],[181,16],[315,16],[549,16],[955,16],
	[45,7.5],[79,7.5],[137,7.5],[239,7.5],[416,7.5],[724,7.5],[1261,7.5],[1663,7.5],
	[39,3.48],[60,3.48],[104,3.48],[181,3.48],[315,3.48],[549,3.48],[955,3.48],[1663,3.48],[2048,3.48],
	[39,1.62],[45,1.62],[79,1.62],[137,1.62],[239,1.62],[416,1.62],[724,1.62],[1261,1.62],[2195,1.62],[3565,1.62],
	[39,0.87],[60,0.87],[104,0.87],[181,0.87],[315,0.87],[549,0.87],[955,0.87],[1663,0.87]];
var kOsat = [[111,2353],[119,1024],[169,1024],[97,446],[158,446],[239,446],
	[79,194],[128,194],[208,194],[338,194],[64,84],[104,84],[169,84],[274,84],[446,84],[588,84],
	[56,36.8],[90,36.8],[147,36.8],[239,36.8],[388,36.8],[630,36.8],
	[48,16],[79,16],[128,16],[208,16],[338,16],[549,16],[891,16],
	[42,7],[64,7],[104,7],[169,7],[274,7],[446,7],[724,7],[1176,7],
	[37,3],[60,3],[97,3],[158,3],[256,3],[416,3],[676,3],[1098,3],[1783,3],
	[34,1.32],[48,1.32],[79,1.32],[128,1.32],[208,1.32],[338,1.32],[549,1.32],[891,1.32],[1448,1.32],[2353,1.32],[3104,1.32],
	[60,0.81],[97,0.81],[158,0.81],[256,0.81],[416,0.81],[676,0.81]];
var kScer = [[208,5.66],[362,5.66],[630,5.66],[1024,5.66],
	[90,2.83],[158,2.83],[274,2.83],[478,2.83],[832,2.83],[1448,2.83],
	[79,1.41],[119,1.41],[208,1.41],[362,1.41],[630,1.41],[1098,1.41],[1910,1.41],
	[158,1],[274,1],[478,1],[832,1]];
var kPpat = [[64,169],[97,169],[64,79],[97,79],[158,79],[239,79],
	[64,36.8],[119,36.8],[208,36.8],[362,36.8],[512,36.8],
	[64,17.1],[90,17.1],[158,17.1],[274,17.1],[478,17.1],[832,17.1],
	[64,8],[119,8],[208,8],[362,8],[630,8],[1098,8],[1552,8],
	[64,3.73],[90,3.73],[158,3.73],[274,3.73],[478,3.73],[832,3.73],[1448,3.73],[2195,3.73],
	[64,1.74],[119,1.74],[208,1.74],[362,1.74],[630,1.74],[1098,1.74],[1910,1.74],[3104,1.74],
	[69,0.81],[111,0.81],[194,0.81],[338,0.81],[588,0.81],[1024,0.81],[84,0.66],[147,0.66]];
var kAtri = [[64,416],[90,416],[64,194],[97,194],[64,90.5],[104,90.5],[158,90.5],
	[64,42],[97,42],[169,42],[274,42],
	[64,19.7],[104,19.7],[181,19.7],[294,19.7],[512,19.7],
	[64,9.2],[97,9.2],[169,9.2],[274,9.2],[478,9.2],[832,9.2],
	[64,4.3],[104,4.3],[181,4.3],[294,4.3],[512,4.3],[891,4.3],[1261,4.3],
	[64,2],[97,2],[169,2],[274,2],[478,2],[832,2],[1351,2],[1783,2],
	[64,0.93],[104,0.93],[181,0.93],[294,0.93],[512,0.93],[891,0.93],[1448,0.93],
	[79,0.62],[137,0.62],[223,0.62],[362,0.62]];
var kDisp = [[56,2],[64,3.2],[72,1.6],[80,2.6],[90,4],[100,2],[110,3.2],[120,1.5],[130,2.6],[145,4.2],[160,2],[175,3],[190,1.5],[210,2.5],[230,3.6],[250,1.8],[280,2.6],[310,1.6],[340,3],[380,2],[420,1.5]];
var kNmr = [[42,11.3],[60,11.3],[84,11.3],
	[25,6.3],[36,6.3],[50,6.3],[71,6.3],[100,6.3],[142,6.3],
	[21,3.48],[30,3.48],[42,3.48],[60,3.48],[84,3.48],[119,3.48],[169,3.48],[223,3.48],
	[25,1.93],[36,1.93],[50,1.93],[71,1.93],[100,1.93],[142,1.93],[201,1.93],[256,1.93],
	[30,1.07],[42,1.07],[60,1.07],[84,1.07],[119,1.07],[158,1.07],[36,0.71],[50,0.71],[71,0.71]];
var kXr15 = [[60,4],[82,4],[111,4],[152,4],[208,4],[284,4],
	[60,2.38],[70,2.38],[95,2.38],[130,2.38],[178,2.38],[243,2.38],[332,2.38],[454,2.38],[620,2.38],[776,2.38],
	[60,1.41],[82,1.41],[111,1.41],[152,1.41],[208,1.41],[284,1.41],[388,1.41],[530,1.41],[724,1.41],[989,1.41],[1176,1.5]];
var kXr30 = [[69,18.4],[97,18.4],[69,9.85],[94,9.85],[147,9.85],
	[69,5.46],[94,5.46],[147,5.46],[231,5.46],[362,5.46],
	[74,3.03],[117,3.03],[184,3.03],[289,3.03],[454,3.03],[712,3.03],[1117,3.03],
	[69,1.68],[94,1.68],[147,1.68],[231,1.68],[362,1.68],[568,1.68],[891,1.68],[1399,1.68],[2048,1.68],[2600,1.6],
	[117,0.93],[184,0.93],[289,0.93],[454,0.93],[712,0.93],[1097,0.93],
	[147,0.66],[231,0.66],[362,0.66],[568,0.66]];

var clouds = [pJcvi, pRick, pSelo, pLoki, pIhos, pNequ, pMimi, pPand, pEbola, pHcov,
	pHsap, pDmel, pAtha, pOsat, pScer, pPpat, pAtri, pDisp, pNmr, pXr15, pXr30];
var cores = [[], kRick, kSelo, kLoki, kIhos, kNequ, kMimi, kPand, [], [],
	kHsap, kDmel, kAtha, kOsat, kScer, kPpat, kAtri, kDisp, kNmr, kXr15, kXr30];

// ---- layout (px) ----
var boxes = [[162, 95, 438, 423], [772, 95, 438, 423], [1377, 95, 437, 423],
	[144, 695, 416, 427], [765, 695, 441, 427], [1378, 693, 425, 425],
	[2219, 96, 427, 426], [2835, 96, 428, 426], [2200, 700, 443, 423], [2812, 700, 433, 423],
	[157, 1340, 427, 410], [783, 1340, 429, 410], [148, 1952, 428, 425], [783, 1952, 427, 425],
	[139, 2562, 427, 426], [773, 2562, 428, 426], [1383, 2564, 428, 426],
	[2177, 1653, 428, 408], [2794, 1653, 428, 421], [2160, 2253, 425, 427], [2779, 2253, 426, 427]];
var coreSize = [0, 26, 30, 40, 26, 22, 20, 38, 0, 0, 44, 44, 46, 44, 44, 42, 44, 12, 34, 30, 34];
var dotSize = [7, 7, 7, 7, 7, 7, 7, 7, 7, 7, 7, 7, 7, 7, 7, 7, 7, 8, 7, 7, 7];
var letters = [['A', 50, 46], ['B', 60, 1294], ['C', 2116, 30], ['D', 2078, 1604]];

var GRAY = '#8c8c8c';
var fmt = function (v) { return String(v); };

var chart = echarts.init(document.getElementById('chart'));
var grids = [], xAxes = [], yAxes = [], series = [], graphics = [];

for (var i = 0; i < boxes.length; i++) {
	var b = boxes[i];
	grids.push({
		left: b[0], top: b[1], width: b[2], height: b[3],
		show: true, borderColor: GRAY, borderWidth: 3, backgroundColor: 'transparent'
	});
	xAxes.push({
		gridIndex: i, type: 'log', logBase: 2, min: xRanges[i][0], max: xRanges[i][1], position: 'bottom',
		axisLine: { show: true, onZero: false, lineStyle: { color: GRAY, width: 5 } },
		axisTick: { show: true, inside: false, length: 12, lineStyle: { color: GRAY, width: 3 }, customValues: xTicks[i] },
		axisLabel: { show: true, rotate: 45, margin: 40, fontSize: 37, color: '#222', fontFamily: 'Liberation Sans',
			customValues: xTicks[i], formatter: fmt },
		splitLine: { show: false }, minorTick: { show: false }
	});
	yAxes.push({
		gridIndex: i, type: 'log', logBase: 2, min: yRanges[i][0], max: yRanges[i][1], position: 'right',
		axisLine: { show: true, onZero: false, lineStyle: { color: GRAY, width: 3 } },
		axisTick: { show: true, inside: false, length: 12, lineStyle: { color: GRAY, width: 3 }, customValues: yTicks[i] },
		axisLabel: { show: true, margin: 28, fontSize: 37, color: '#222', fontFamily: 'Liberation Sans',
			customValues: yTicks[i], formatter: fmt },
		splitLine: { show: false }, minorTick: { show: false }
	});

	// red guide lines: median length and ratio 1
	series.push({
		type: 'line', xAxisIndex: i, yAxisIndex: i, z: 1, showSymbol: false, symbol: 'none', silent: true,
		data: [[medians[i], yRanges[i][0]], [medians[i], yRanges[i][1]]],
		lineStyle: { color: '#ff3a3a', width: 3, type: [9, 6] }
	});
	series.push({
		type: 'line', xAxisIndex: i, yAxisIndex: i, z: 1, showSymbol: false, symbol: 'none', silent: true,
		data: [[xRanges[i][0], 1], [xRanges[i][1], 1]],
		lineStyle: { color: '#ff3a3a', width: 5, type: [5, 4] }
	});
	if (cores[i].length) {
		series.push({
			type: 'scatter', xAxisIndex: i, yAxisIndex: i, z: 3, silent: true,
			symbolSize: coreSize[i], itemStyle: { color: '#000', opacity: 1 }, data: cores[i]
		});
	}
	series.push({
		type: 'scatter', xAxisIndex: i, yAxisIndex: i, z: 4, silent: true,
		symbolSize: dotSize[i], itemStyle: { color: '#000', opacity: 1 }, data: clouds[i]
	});

	graphics.push({
		type: 'text', x: b[0] + b[2] / 2, y: b[1] - 24, silent: true,
		style: { text: titles[i], fill: '#333', font: 'italic 40px "Liberation Serif"',
			textAlign: 'center', textVerticalAlign: 'middle', align: 'center', verticalAlign: 'middle' }
	});
	graphics.push({
		type: 'text', x: b[0] + b[2] - 16, y: b[1] + 30, silent: true,
		style: { text: scores[i], fill: '#1a1aff', font: 'bold 42px "Liberation Serif"',
			textAlign: 'right', textVerticalAlign: 'middle', align: 'right', verticalAlign: 'middle' }
	});
}

letters.forEach(function (l) {
	graphics.push({
		type: 'text', x: l[1], y: l[2], silent: true,
		style: { text: l[0], fill: '#000', font: 'bold 84px "Liberation Serif"',
			textAlign: 'left', textVerticalAlign: 'top', align: 'left', verticalAlign: 'top' }
	});
});

chart.setOption({
	animation: false,
	backgroundColor: '#fff',
	grid: grids,
	xAxis: xAxes,
	yAxis: yAxes,
	series: series,
	graphic: graphics
});
</script>
</body>
</html>
